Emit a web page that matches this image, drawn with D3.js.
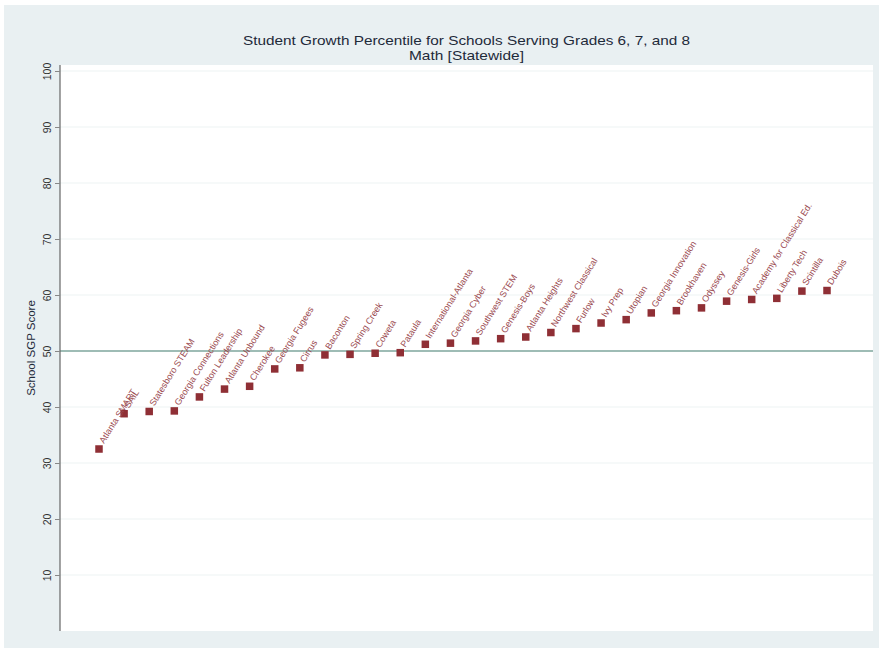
<!DOCTYPE html>
<html><head><meta charset="utf-8">
<script src="https://cdn.jsdelivr.net/npm/d3@7"></script>
<style>body{margin:0;background:#fff}svg{display:block}text{font-family:"Liberation Sans",Arial,sans-serif}</style>
</head><body><svg id="c" width="879" height="648"></svg>
<script>
const schools = ["Atlanta SMART","SAIL","Statesboro STEAM","Georgia Connections","Fulton Leadership","Atlanta Unbound","Cherokee","Georgia Fugees","Cirrus","Baconton","Spring Creek","Coweta","Pataula","International-Atlanta","Georgia Cyber","Southwest STEM","Genesis-Boys","Atlanta Heights","Northwest Classical","Furlow","Ivy Prep","Utopian","Georgia Innovation","Brookhaven","Odyssey","Genesis-Girls","Academy for Classical Ed.","Liberty Tech","Scintilla","Dubois"];
const sgp = [32.5,38.8,39.2,39.3,41.8,43.2,43.7,46.8,47.0,49.3,49.4,49.6,49.7,51.2,51.4,51.8,52.2,52.5,53.3,54.0,55.0,55.6,56.8,57.2,57.7,58.9,59.2,59.4,60.7,60.8];
const yTicks = [10,20,30,40,50,60,70,80,90,100];
const refLine = 50;
const title1 = "Student Growth Percentile for Schools Serving Grades 6, 7, and 8";
const title2 = "Math [Statewide]";
const yTitle = "School SGP Score";

const svg = d3.select("#c");
const L=60, R=873, T=65, B=631;
svg.append("rect").attr("x",4).attr("y",5).attr("width",875).attr("height",643).attr("fill","#e9f0f2");
svg.append("rect").attr("x",L).attr("y",T).attr("width",R-L).attr("height",B-T).attr("fill","#fff");

const y = d3.scaleLinear().domain([0,100]).range([B,71]);
const x = d3.scaleLinear().domain([0,schools.length-1]).range([99,827]);

// gridlines
svg.append("g").selectAll("line").data(yTicks.filter(d=>d!==refLine)).join("line")
  .attr("x1",L).attr("x2",R).attr("y1",d=>y(d)).attr("y2",d=>y(d))
  .attr("stroke","#edf3f4").attr("stroke-width",1.2);

// reference line
svg.append("line").attr("x1",L).attr("x2",R).attr("y1",y(refLine)).attr("y2",y(refLine))
  .attr("stroke","#7ea69d").attr("stroke-width",1.4);

// axis
const ax = svg.append("g").attr("transform",`translate(${L},0)`)
  .call(d3.axisLeft(y).tickValues(yTicks).tickSize(5).tickFormat(d3.format("d")));
ax.select(".domain").attr("d",`M0,${T}V${B}`).attr("stroke","#666").attr("stroke-width",1.2);
ax.selectAll(".tick line").attr("stroke","#888");
ax.selectAll(".tick text").attr("transform","rotate(-90)").attr("x",0).attr("y",-9).attr("dy",0)
  .attr("text-anchor","middle").attr("font-size",10.5).attr("fill","#333");

// titles
svg.append("text").attr("x",(L+R)/2).attr("y",45).attr("text-anchor","middle")
  .attr("font-size",13.5).attr("fill","#1e2a3a")
  .attr("textLength",447).attr("lengthAdjust","spacingAndGlyphs").text(title1);
svg.append("text").attr("x",(L+R)/2).attr("y",60).attr("text-anchor","middle")
  .attr("font-size",13.5).attr("fill","#1e2a3a")
  .attr("textLength",115).attr("lengthAdjust","spacingAndGlyphs").text(title2);
svg.append("text").attr("transform",`translate(35,${(T+B)/2}) rotate(-90)`).attr("text-anchor","middle")
  .attr("font-size",11.5).attr("fill","#1e2a3a").text(yTitle);

// markers
const ms=7.5;
svg.append("g").selectAll("rect").data(sgp).join("rect")
  .attr("x",(d,i)=>x(i)-ms/2).attr("y",d=>y(d)-ms/2).attr("width",ms).attr("height",ms)
  .attr("fill","#8f2f35");

// labels
svg.append("g").selectAll("text").data(schools).join("text")
  .attr("transform",(d,i)=>`translate(${x(i)+5},${y(sgp[i])-5}) rotate(-58)`)
  .attr("font-size",9).attr("fill","#9a4a50").text(d=>d);
</script></body></html>
